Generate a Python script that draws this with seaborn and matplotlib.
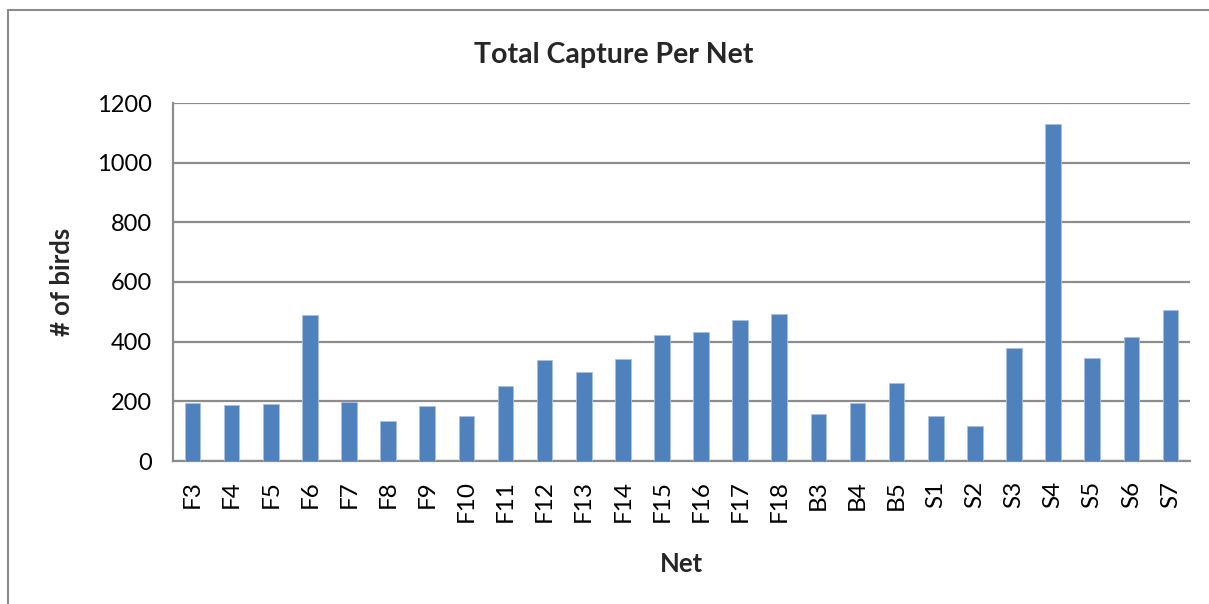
import matplotlib
matplotlib.use("Agg")
import matplotlib.pyplot as plt
from matplotlib.patches import Rectangle
import seaborn as sns
import pandas as pd

nets = ["F3", "F4", "F5", "F6", "F7", "F8", "F9", "F10", "F11", "F12", "F13",
        "F14", "F15", "F16", "F17", "F18", "B3", "B4", "B5", "S1", "S2", "S3",
        "S4", "S5", "S6", "S7"]
birds = [196, 189, 191, 491, 197, 134, 185, 151, 251, 338, 297, 342, 424,
         434, 473, 492, 158, 193, 261, 151, 118, 378, 1131, 345, 415, 507]
y_ticks = [0, 200, 400, 600, 800, 1000, 1200]

df = pd.DataFrame({"Net": nets, "Birds": birds})

sns.set_style("white")
plt.rcParams["font.family"] = ["Lato", "DejaVu Sans"]

grid_col = "#8c8c8c"
fig = plt.figure(figsize=(12.09, 6.04), dpi=100)
ax = fig.add_axes([173 / 1209, 1 - 461 / 604, (1190 - 173) / 1209, (461 - 103) / 604])

sns.barplot(data=df, x="Net", y="Birds", color="#4F81BD", width=0.4,
            saturation=1, ax=ax, edgecolor="#a9c1e0", linewidth=0.6, zorder=3)

ax.set_xlim(-0.5, len(nets) - 0.5)
ax.set_ylim(0, 1200)
ax.set_yticks(y_ticks)
ax.set_yticklabels([str(v) for v in y_ticks], fontsize=17)
ax.yaxis.grid(True, color=grid_col, linewidth=1.6, zorder=0)
ax.set_axisbelow(True)

# ticks between categories on the x axis
ax.set_xticks(range(len(nets)))
ax.set_xticklabels(nets, rotation=90, fontsize=17.5)
ax.tick_params(axis="x", length=0, pad=14)
ax.set_xticks([i - 0.5 for i in range(len(nets) + 1)], minor=True)
ax.tick_params(axis="x", which="minor", length=7, width=1.6, color=grid_col, direction="out")
ax.tick_params(axis="y", length=7, width=1.6, color=grid_col, direction="out", pad=8)
ax.tick_params(axis="both", labelcolor="black")

for side in ["top", "right"]:
    ax.spines[side].set_visible(False)
for side in ["left", "bottom"]:
    ax.spines[side].set_color(grid_col)
    ax.spines[side].set_linewidth(1.6)

ax.set_xlabel("Net", fontsize=18.5, fontweight="bold", labelpad=21)
ax.set_ylabel("# of birds", fontsize=18.5, fontweight="bold", labelpad=17)
# title centred over the whole chart frame rather than the plot area
ax.set_title("Total Capture Per Net", fontsize=20.5, fontweight="bold", pad=29,
             x=(614 - 173) / 1017)

# outer chart frame
fig.patches.append(Rectangle((8 / 1209, -0.05), 1.2, 1 - 10 / 604 + 0.05,
                             transform=fig.transFigure, fill=False,
                             edgecolor="#8c8c8c", linewidth=1.5))

fig.savefig("out.png", dpi=100)
